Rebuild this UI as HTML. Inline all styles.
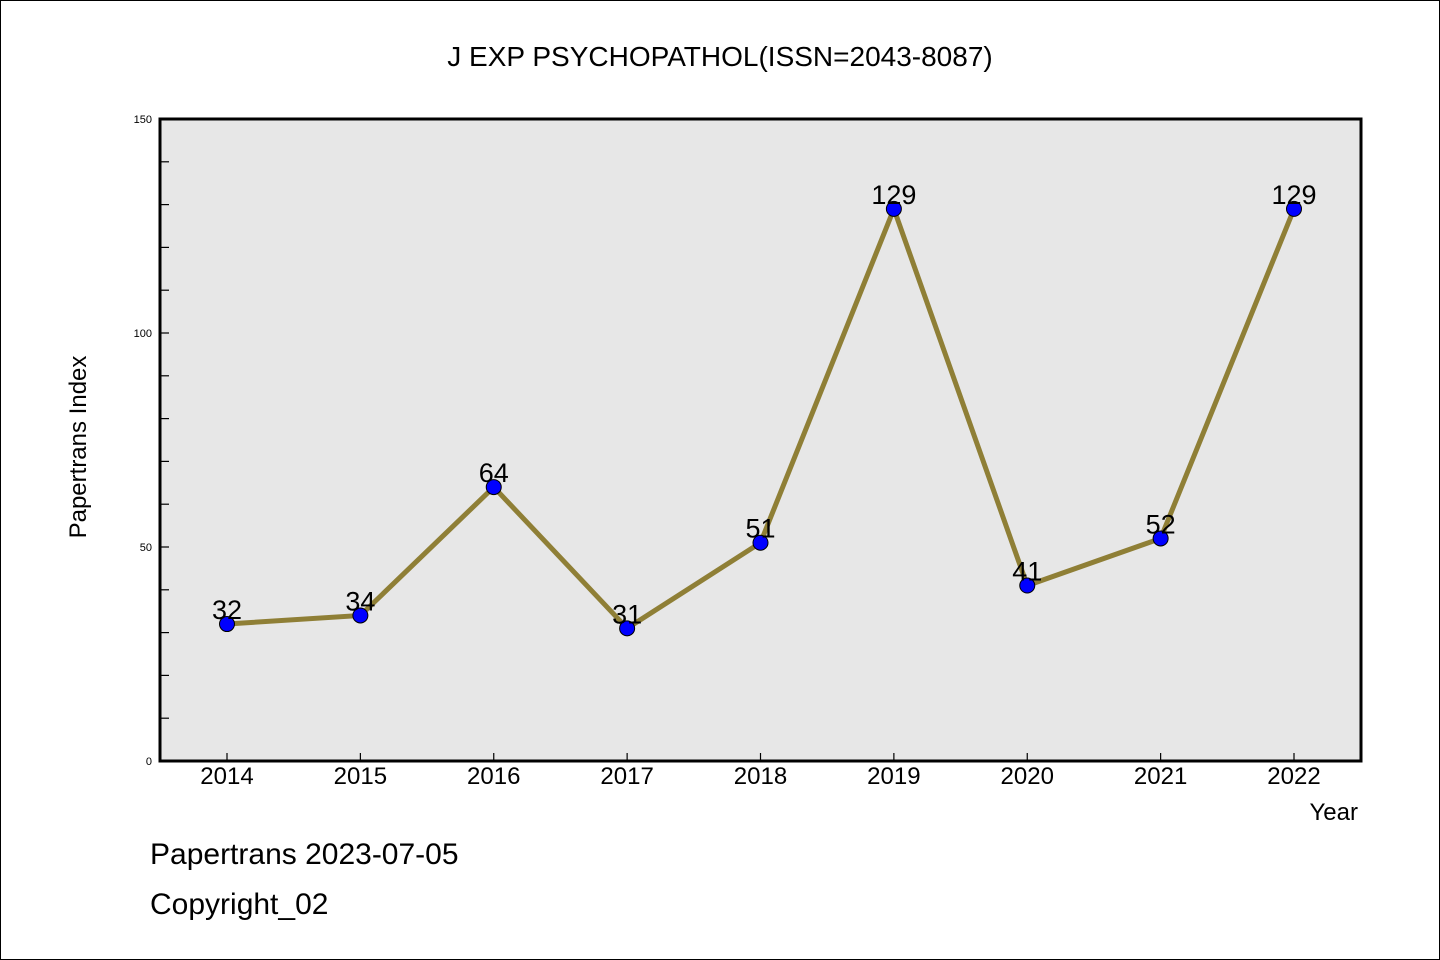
<!DOCTYPE html>
<html><head><meta charset="utf-8"><style>
body{margin:0;background:#fff}
svg{display:block;font-family:"WenQuanYi Zen Hei","Liberation Sans",sans-serif}
</style></head><body>
<svg width="1440" height="960" xmlns="http://www.w3.org/2000/svg">
<rect x="0.5" y="0.5" width="1439" height="959" fill="#fff" stroke="#000"/>
<text x="720" y="66" font-size="28" text-anchor="middle">J EXP PSYCHOPATHOL(ISSN=2043-8087)</text>
<rect x="160" y="119" width="1201" height="642" fill="#e7e7e7"/>
<g id="ticks"></g>
<g id="series"></g>
<path d="M160,119 H1361 V761 H160 Z" fill="none" stroke="#000" stroke-width="3"/>
<text x="86" y="447" font-size="24" text-anchor="middle" transform="rotate(-90 86 447)">Papertrans Index</text>
<text x="1358" y="820" font-size="24" text-anchor="end">Year</text>
<text x="150" y="864" font-size="30">Papertrans 2023-07-05</text>
<text x="150" y="914" font-size="30">Copyright_02</text>
</svg>
<script>
const years=["2014","2015","2016","2017","2018","2019","2020","2021","2022"];
const values=[32,34,64,31,51,129,41,52,129];
const yTickLabels=[0,50,100,150];
const NS="http://www.w3.org/2000/svg";
const x0=227,x1=1294,yB=761,yT=119,yMax=150;
function xs(i){return x0+(x1-x0)*i/(years.length-1);}
function ys(v){return yB-(yB-yT)*v/yMax;}
function mk(t,a,p){const e=document.createElementNS(NS,t);for(const k in a)e.setAttribute(k,a[k]);p.appendChild(e);return e;}
const tg=document.getElementById('ticks'),sg=document.getElementById('series');
for(let v=10;v<yMax;v+=10){const l=mk('line',{x1:160,x2:169,y1:ys(v),y2:ys(v),stroke:'#000','stroke-width':1.2},tg);

}
yTickLabels.forEach(v=>{const t=mk('text',{x:152,y:ys(v)+4,'font-size':11,'text-anchor':'end'},tg);t.textContent=v;

});
years.forEach((y,i)=>{const l=mk('line',{x1:xs(i),x2:xs(i),y1:yB-8,y2:yB,stroke:'#000','stroke-width':1.2},tg);


const t=mk('text',{x:xs(i),y:784,'font-size':24,'text-anchor':'middle'},tg);t.textContent=y;

});
const pl=mk('polyline',{points:values.map((v,i)=>xs(i)+','+ys(v)).join(' '),fill:'none',stroke:'#8f7f36','stroke-width':5},sg);


values.forEach((v,i)=>{const c=mk('circle',{cx:xs(i),cy:ys(v),r:7.5,fill:'#0000ff',stroke:'#000','stroke-width':1},sg);


const t=mk('text',{x:xs(i),y:ys(v)-5,'font-size':27,'text-anchor':'middle'},sg);t.textContent=v;

});
</script>
</body></html>
